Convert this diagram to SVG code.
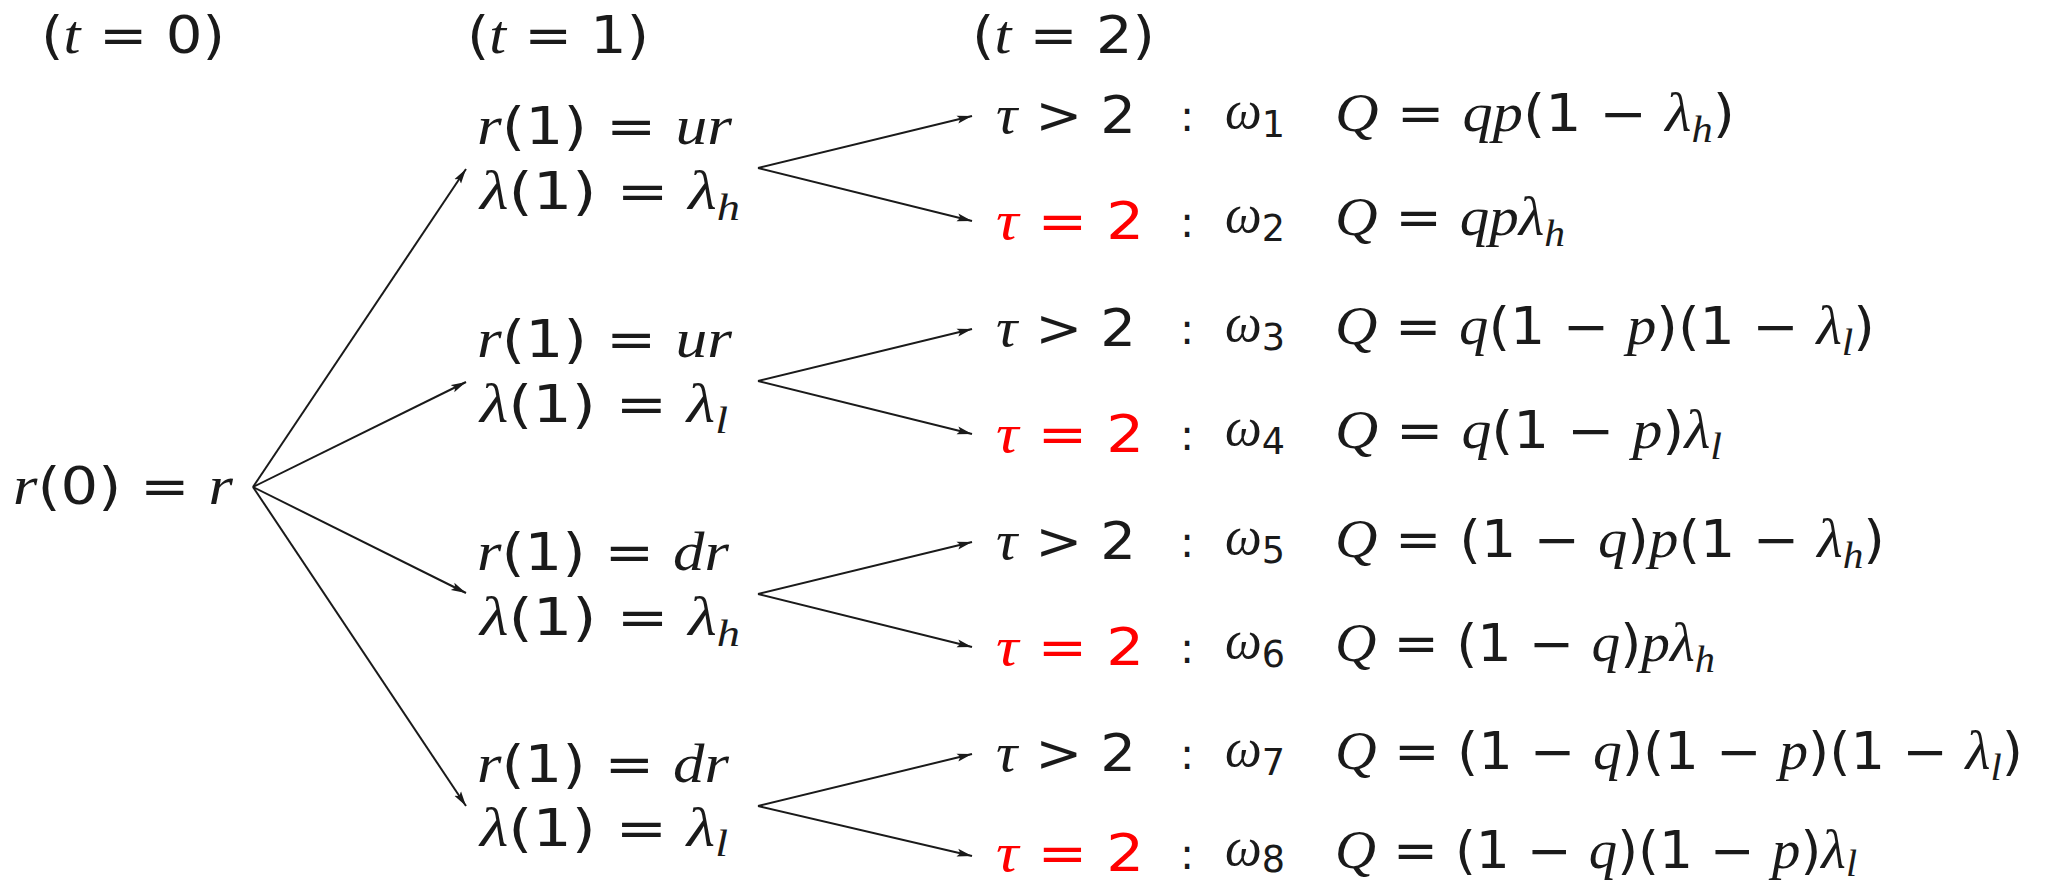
<svg xmlns="http://www.w3.org/2000/svg" width="2051" height="885" viewBox="0 0 2051 885">
<style>
text { font-family: "DejaVu Sans", sans-serif; font-size: 51px; fill: #1a1a1a; }
.i { font-family: "Liberation Serif", serif; font-style: italic; font-size: 54px; }
.sub { font-size: 38px; }
.red, .red tspan { fill: #ff0000; }
.col { font-size: 42px; }
.conn line { stroke: #1a1a1a; stroke-width: 2; fill: none; marker-end: url(#ah); }
</style>
<defs>
<marker id="ah" markerUnits="userSpaceOnUse" markerWidth="16" markerHeight="10" refX="15" refY="5" orient="auto">
<path d="M0,1 L15,5 L0,9 L3,5 Z" fill="#1a1a1a"/>
</marker>
</defs>
<rect width="2051" height="885" fill="#ffffff"/>

<g id="headers">
<text x="41" y="53" textLength="184" lengthAdjust="spacingAndGlyphs">(<tspan class="i">t</tspan> = 0)</text>
<text x="467" y="53" textLength="182" lengthAdjust="spacingAndGlyphs">(<tspan class="i">t</tspan> = 1)</text>
<text x="972" y="53" textLength="183" lengthAdjust="spacingAndGlyphs">(<tspan class="i">t</tspan> = 2)</text>
</g>

<g id="root">
<text x="13" y="504" textLength="220" lengthAdjust="spacingAndGlyphs"><tspan class="i">r</tspan>(0) = <tspan class="i">r</tspan></text>
</g>

<g id="n1">
<text x="477" y="144" textLength="255" lengthAdjust="spacingAndGlyphs"><tspan class="i">r</tspan>(1) = <tspan class="i">ur</tspan></text>
<text x="480" y="209" textLength="260" lengthAdjust="spacingAndGlyphs"><tspan class="i">λ</tspan>(1) = <tspan class="i">λ</tspan><tspan class="i sub" dy="11">h</tspan></text>
</g>
<g id="n2">
<text x="477" y="357" textLength="255" lengthAdjust="spacingAndGlyphs"><tspan class="i">r</tspan>(1) = <tspan class="i">ur</tspan></text>
<text x="480" y="422" textLength="248" lengthAdjust="spacingAndGlyphs"><tspan class="i">λ</tspan>(1) = <tspan class="i">λ</tspan><tspan class="i sub" dy="11">l</tspan></text>
</g>
<g id="n3">
<text x="477" y="570" textLength="252" lengthAdjust="spacingAndGlyphs"><tspan class="i">r</tspan>(1) = <tspan class="i">dr</tspan></text>
<text x="480" y="635" textLength="260" lengthAdjust="spacingAndGlyphs"><tspan class="i">λ</tspan>(1) = <tspan class="i">λ</tspan><tspan class="i sub" dy="11">h</tspan></text>
</g>
<g id="n4">
<text x="477" y="782" textLength="252" lengthAdjust="spacingAndGlyphs"><tspan class="i">r</tspan>(1) = <tspan class="i">dr</tspan></text>
<text x="480" y="846" textLength="248" lengthAdjust="spacingAndGlyphs"><tspan class="i">λ</tspan>(1) = <tspan class="i">λ</tspan><tspan class="i sub" dy="10">l</tspan></text>
</g>

<g id="o1">
<text x="996" y="133" textLength="140" lengthAdjust="spacingAndGlyphs"><tspan class="i">τ</tspan> &gt; 2</text>
<text class="col" x="1180" y="131">:</text>
<text x="1225" y="128" textLength="60" lengthAdjust="spacingAndGlyphs"><tspan class="i">ω</tspan><tspan class="sub" dy="9">1</tspan></text>
<text x="1335" y="131" textLength="400" lengthAdjust="spacingAndGlyphs"><tspan class="i">Q</tspan> = <tspan class="i">qp</tspan>(1 − <tspan class="i">λ</tspan><tspan class="i sub" dy="11">h</tspan><tspan dy="-11">)</tspan></text>
</g>
<g id="o2">
<text class="red" x="996" y="239" textLength="148" lengthAdjust="spacingAndGlyphs"><tspan class="i">τ</tspan> = 2</text>
<text class="col" x="1180" y="237">:</text>
<text x="1225" y="232" textLength="60" lengthAdjust="spacingAndGlyphs"><tspan class="i">ω</tspan><tspan class="sub" dy="9">2</tspan></text>
<text x="1335" y="235" textLength="230" lengthAdjust="spacingAndGlyphs"><tspan class="i">Q</tspan> = <tspan class="i">qpλ</tspan><tspan class="i sub" dy="11">h</tspan></text>
</g>
<g id="o3">
<text x="996" y="346" textLength="140" lengthAdjust="spacingAndGlyphs"><tspan class="i">τ</tspan> &gt; 2</text>
<text class="col" x="1180" y="344">:</text>
<text x="1225" y="341" textLength="60" lengthAdjust="spacingAndGlyphs"><tspan class="i">ω</tspan><tspan class="sub" dy="9">3</tspan></text>
<text x="1335" y="344" textLength="540" lengthAdjust="spacingAndGlyphs"><tspan class="i">Q</tspan> = <tspan class="i">q</tspan>(1 − <tspan class="i">p</tspan>)(1 − <tspan class="i">λ</tspan><tspan class="i sub" dy="11">l</tspan><tspan dy="-11">)</tspan></text>
</g>
<g id="o4">
<text class="red" x="996" y="452" textLength="148" lengthAdjust="spacingAndGlyphs"><tspan class="i">τ</tspan> = 2</text>
<text class="col" x="1180" y="450">:</text>
<text x="1225" y="445" textLength="60" lengthAdjust="spacingAndGlyphs"><tspan class="i">ω</tspan><tspan class="sub" dy="9">4</tspan></text>
<text x="1335" y="448" textLength="387" lengthAdjust="spacingAndGlyphs"><tspan class="i">Q</tspan> = <tspan class="i">q</tspan>(1 − <tspan class="i">p</tspan>)<tspan class="i">λ</tspan><tspan class="i sub" dy="11">l</tspan></text>
</g>
<g id="o5">
<text x="996" y="559" textLength="140" lengthAdjust="spacingAndGlyphs"><tspan class="i">τ</tspan> &gt; 2</text>
<text class="col" x="1180" y="557">:</text>
<text x="1225" y="554" textLength="60" lengthAdjust="spacingAndGlyphs"><tspan class="i">ω</tspan><tspan class="sub" dy="9">5</tspan></text>
<text x="1335" y="557" textLength="550" lengthAdjust="spacingAndGlyphs"><tspan class="i">Q</tspan> = (1 − <tspan class="i">q</tspan>)<tspan class="i">p</tspan>(1 − <tspan class="i">λ</tspan><tspan class="i sub" dy="11">h</tspan><tspan dy="-11">)</tspan></text>
</g>
<g id="o6">
<text class="red" x="996" y="665" textLength="148" lengthAdjust="spacingAndGlyphs"><tspan class="i">τ</tspan> = 2</text>
<text class="col" x="1180" y="663">:</text>
<text x="1225" y="658" textLength="60" lengthAdjust="spacingAndGlyphs"><tspan class="i">ω</tspan><tspan class="sub" dy="9">6</tspan></text>
<text x="1335" y="661" textLength="380" lengthAdjust="spacingAndGlyphs"><tspan class="i">Q</tspan> = (1 − <tspan class="i">q</tspan>)<tspan class="i">pλ</tspan><tspan class="i sub" dy="11">h</tspan></text>
</g>
<g id="o7">
<text x="996" y="771" textLength="140" lengthAdjust="spacingAndGlyphs"><tspan class="i">τ</tspan> &gt; 2</text>
<text class="col" x="1180" y="769">:</text>
<text x="1225" y="766" textLength="60" lengthAdjust="spacingAndGlyphs"><tspan class="i">ω</tspan><tspan class="sub" dy="9">7</tspan></text>
<text x="1335" y="769" textLength="688" lengthAdjust="spacingAndGlyphs"><tspan class="i">Q</tspan> = (1 − <tspan class="i">q</tspan>)(1 − <tspan class="i">p</tspan>)(1 − <tspan class="i">λ</tspan><tspan class="i sub" dy="11">l</tspan><tspan dy="-11">)</tspan></text>
</g>
<g id="o8">
<text class="red" x="996" y="871" textLength="148" lengthAdjust="spacingAndGlyphs"><tspan class="i">τ</tspan> = 2</text>
<text class="col" x="1180" y="869">:</text>
<text x="1225" y="865" textLength="60" lengthAdjust="spacingAndGlyphs"><tspan class="i">ω</tspan><tspan class="sub" dy="7">8</tspan></text>
<text x="1335" y="868" textLength="522" lengthAdjust="spacingAndGlyphs"><tspan class="i">Q</tspan> = (1 − <tspan class="i">q</tspan>)(1 − <tspan class="i">p</tspan>)<tspan class="i">λ</tspan><tspan class="i sub" dy="8">l</tspan></text>
</g>

<g id="connectors" class="conn">
<line x1="253" y1="487" x2="466" y2="169"/>
<line x1="253" y1="487" x2="466" y2="382"/>
<line x1="253" y1="487" x2="466" y2="593"/>
<line x1="253" y1="487" x2="466" y2="806"/>
<line x1="758" y1="168" x2="972" y2="116"/>
<line x1="758" y1="168" x2="972" y2="221"/>
<line x1="758" y1="381" x2="972" y2="329"/>
<line x1="758" y1="381" x2="972" y2="434"/>
<line x1="758" y1="594" x2="972" y2="542"/>
<line x1="758" y1="594" x2="972" y2="647"/>
<line x1="758" y1="806" x2="972" y2="754"/>
<line x1="758" y1="806" x2="972" y2="856"/>
</g>
</svg>
